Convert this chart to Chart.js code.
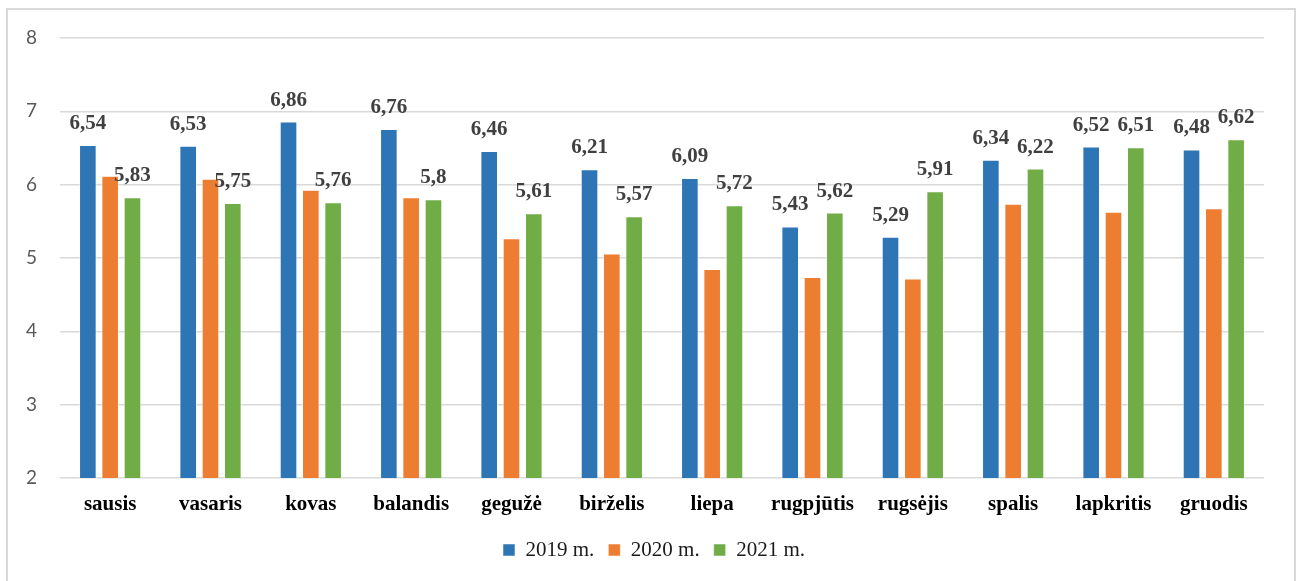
<!DOCTYPE html>
<html>
<head>
<meta charset="utf-8">
<script src="https://cdn.jsdelivr.net/npm/chart.js@4/dist/chart.umd.min.js"></script>
<style>
  body { margin: 0; background: #fff; }
  #frame { position: absolute; left: 6px; top: 8px; width: 1286px; height: 620px; border: 2px solid #d9d9d9; }
  #myChart { position: absolute; left: 0; top: 0; }
</style>
</head>
<body>
<div id="frame"></div>
<canvas id="myChart" width="1299" height="581"></canvas>
<script>
// months and yearly values
const months = ['sausis', 'vasaris', 'kovas', 'balandis', 'gegužė', 'birželis', 'liepa', 'rugpjūtis', 'rugsėjis', 'spalis', 'lapkritis', 'gruodis'];
const values2019 = [6.54, 6.53, 6.86, 6.76, 6.46, 6.21, 6.09, 5.43, 5.29, 6.34, 6.52, 6.48];
const values2020 = [6.12, 6.08, 5.93, 5.83, 5.27, 5.06, 4.85, 4.74, 4.72, 5.74, 5.63, 5.68];
const values2021 = [5.83, 5.75, 5.76, 5.8, 5.61, 5.57, 5.72, 5.62, 5.91, 6.22, 6.51, 6.62];
const seriesNames = ['2019 m.', '2020 m.', '2021 m.'];
const yTicks = [2, 3, 4, 5, 6, 7, 8];

// value labels above the 2019 and 2021 bars
const barLabels = {
  id: 'barLabels',
  afterDatasetsDraw(chart) {
    const ctx = chart.ctx;
    ctx.save();
    ctx.font = 'bold 21px "Liberation Serif", "Times New Roman", serif';
    ctx.fillStyle = '#404040';
    ctx.textAlign = 'center';
    ctx.textBaseline = 'alphabetic';
    [0, 2].forEach(i => {
      const ds = chart.data.datasets[i];
      chart.getDatasetMeta(i).data.forEach((bar, j) => {
        ctx.fillText(String(ds.data[j]).replace('.', ','), bar.x, bar.y - 16);
      });
    });
    ctx.restore();
  }
};

// legend sits a little right of the plot centre in the original
const legendShift = {
  id: 'legendShift',
  afterLayout(chart) {
    const lg = chart.legend;
    const dx = 654 - (lg.left + lg.right) / 2;
    lg.left += dx;
    lg.right += dx;
  }
};

const serif = '"Liberation Serif", "Times New Roman", serif';
const colors = ['#2e75b6', '#ed7d31', '#70ad47'];
const ctx = document.getElementById('myChart').getContext('2d');
new Chart(ctx, {
  type: 'bar',
  data: {
    labels: months,
    datasets: [values2019, values2020, values2021].map((d, i) => ({
      label: seriesNames[i],
      data: d,
      backgroundColor: colors[i],
      borderColor: 'rgba(255,255,255,0.5)',
      borderWidth: 1,
      categoryPercentage: 0.667,
      barPercentage: 0.79
    }))
  },
  options: {
    responsive: false,
    animation: false,
    layout: { padding: { left: 0, right: 35, top: 38, bottom: 10.5 } },
    plugins: {
      tooltip: { enabled: false },
      legend: {
        position: 'bottom',
        labels: {
          boxWidth: 12,
          boxHeight: 12,
          padding: 14,
          color: '#1a1a1a',
          font: { family: serif, size: 21 }
        }
      }
    },
    scales: {
      x: {
        grid: { display: false },
        border: { display: false },
        ticks: {
          padding: 6,
          color: '#000',
          font: { family: serif, size: 21, weight: 'bold' }
        },
        afterFit(scale) { scale.height = 47.5; }
      },
      y: {
        min: 2,
        max: 8,
        afterBuildTicks(scale) { scale.ticks = yTicks.map(v => ({ value: v })); },
        grid: { color: '#d9d9d9', lineWidth: 1.5, drawTicks: false },
        border: { display: false },
        ticks: {
          padding: 23,
          color: '#595959',
          font: { family: 'Lato, "Open Sans", sans-serif', size: 19 }
        },
        afterFit(scale) { scale.width = 60; }
      }
    }
  },
  plugins: [barLabels, legendShift]
});
</script>
</body>
</html>
